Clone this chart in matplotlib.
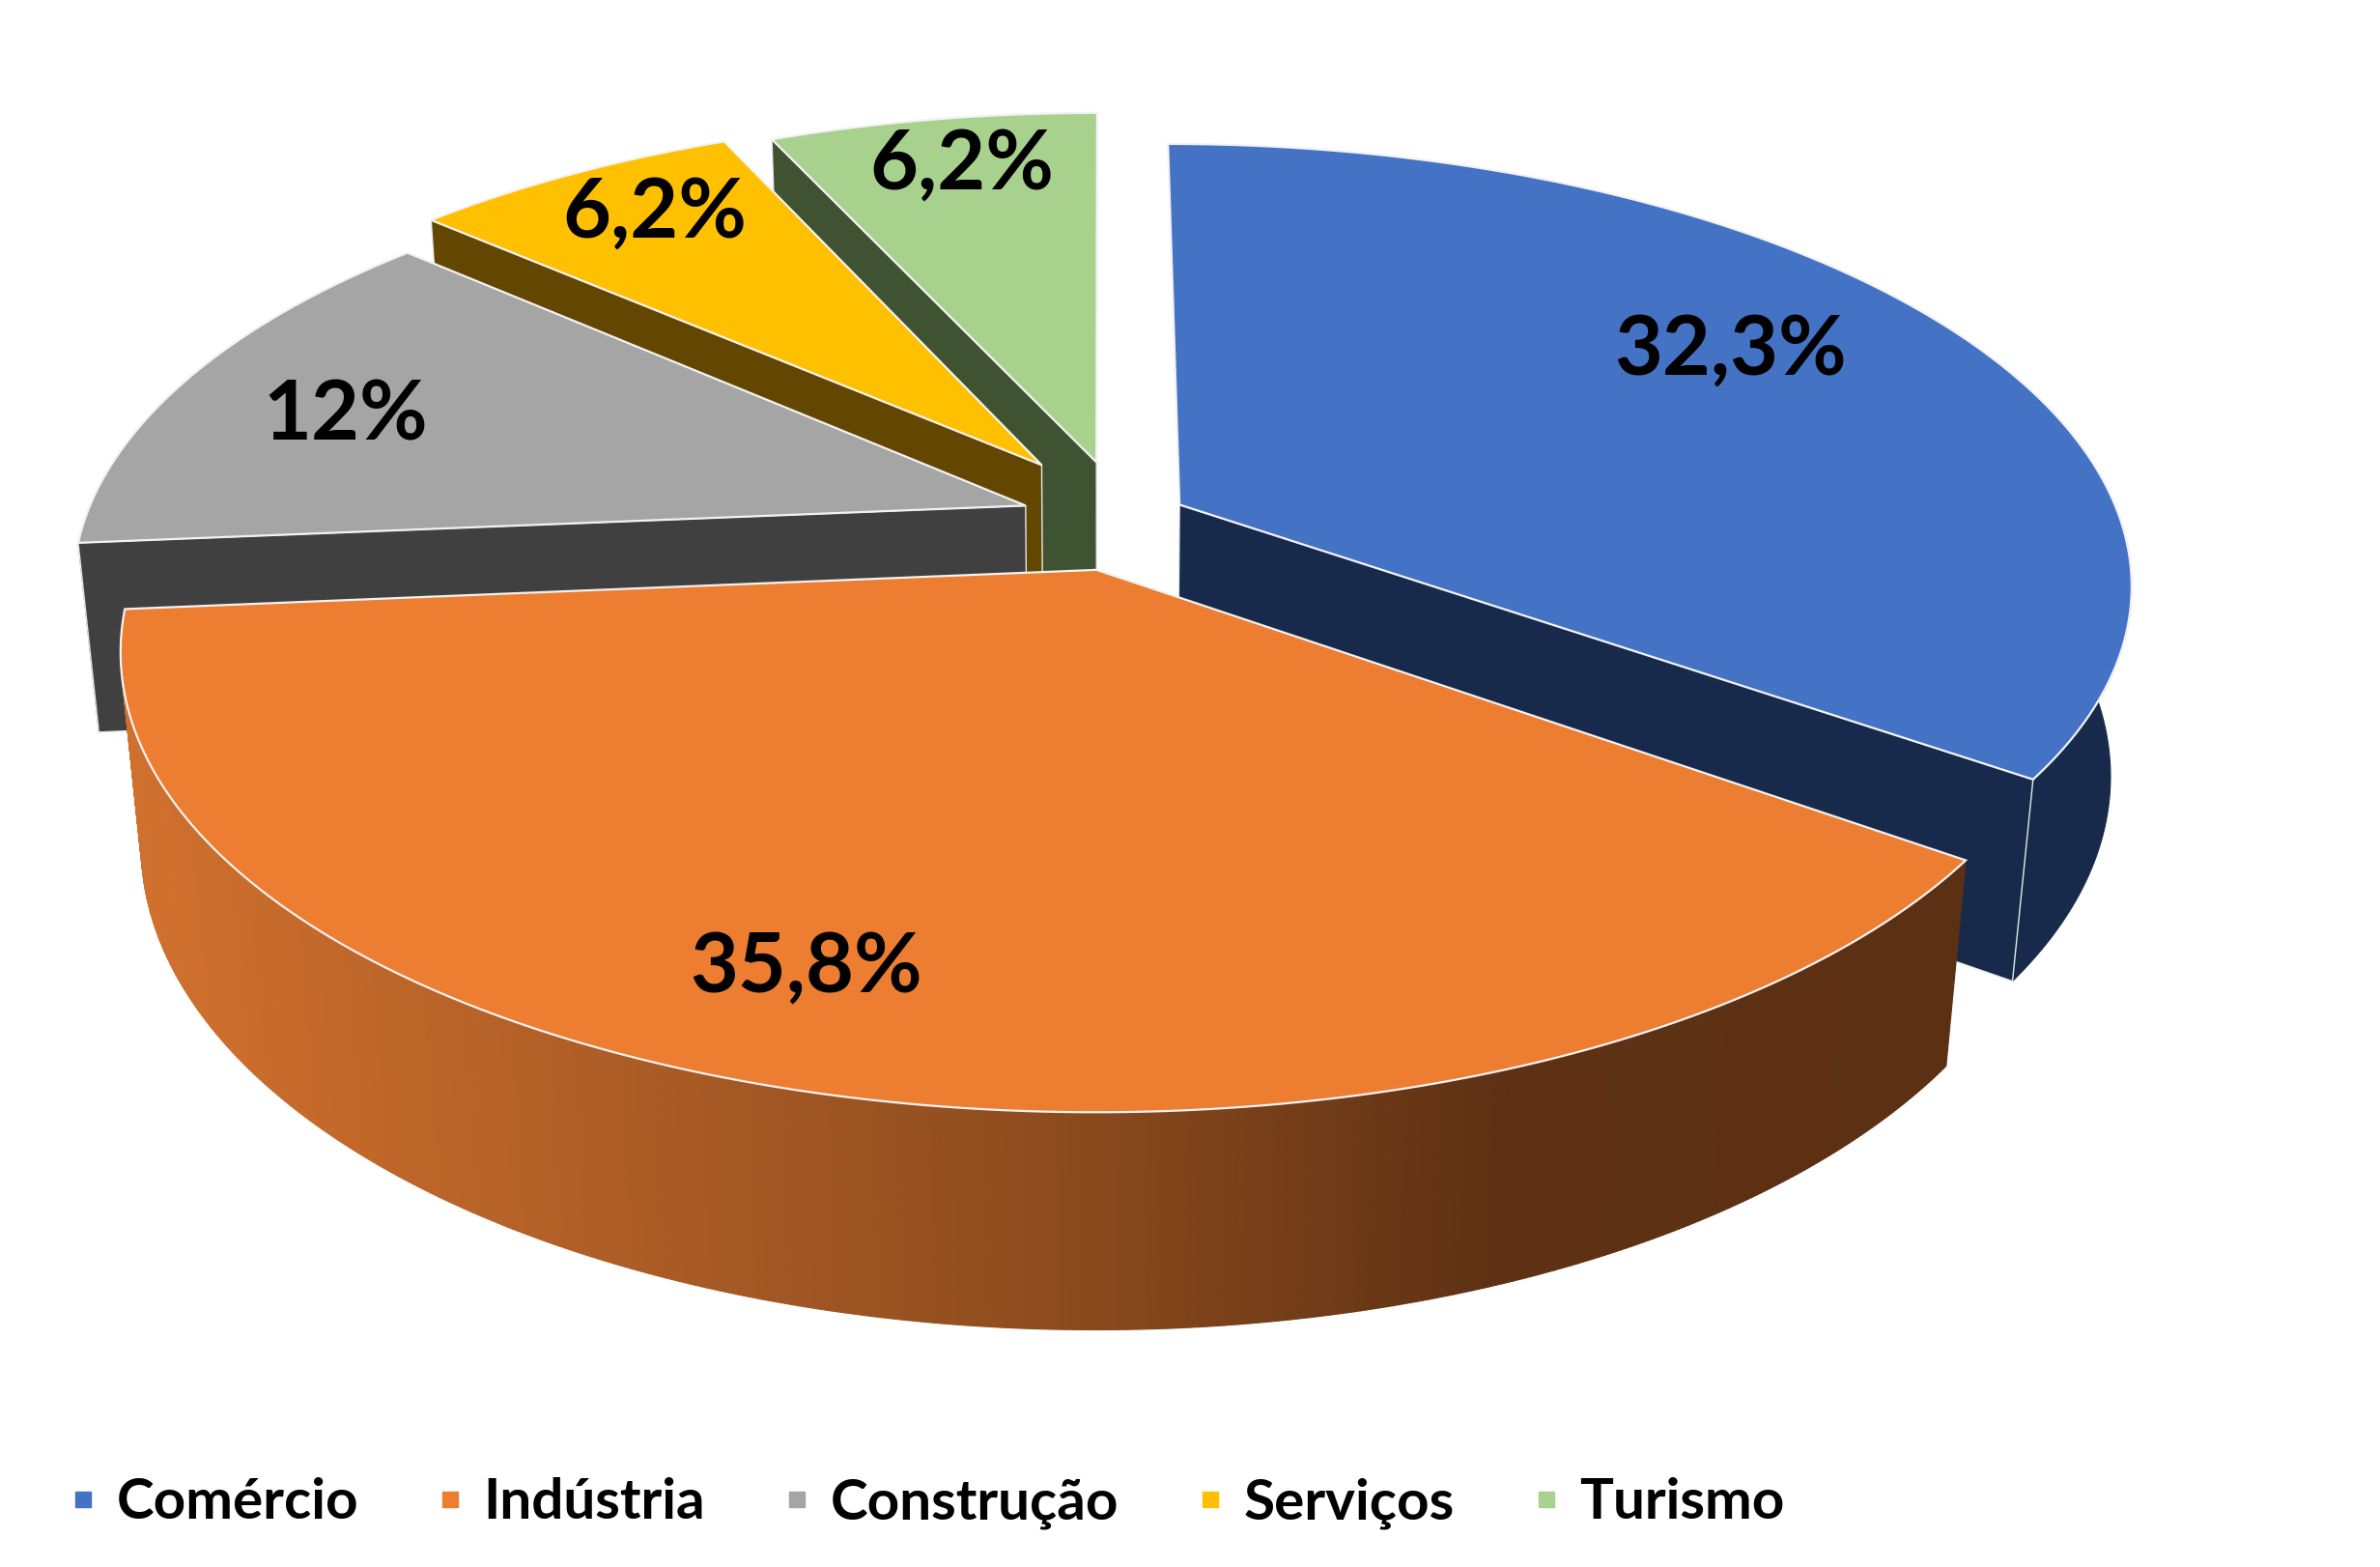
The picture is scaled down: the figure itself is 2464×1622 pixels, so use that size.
import numpy as np
import matplotlib
matplotlib.use('Agg')
import matplotlib.pyplot as plt
from matplotlib.collections import PolyCollection
from matplotlib.patches import Polygon
from matplotlib.lines import Line2D
from matplotlib.colors import to_rgb

# ---------------- data ----------------
categories = ['Comércio', 'Indústria', 'Construção', 'Serviços', 'Turismo']
values = [32.3, 35.8, 12, 6.2, 6.2]
value_labels = ['32,3%', '35,8%', '12%', '6,2%', '6,2%']

# ---------------- style ----------------
top_colors = ['#4472C4', '#ED7D31', '#A5A5A5', '#FFC000', '#A9D18E']
side_colors = ['#172A4C', '#5E3114', '#404040', '#634700', '#3F5231']
gradient_slice = 1
gradient_stops = [(0.0, '#D0702E'), (0.5, '#8E4C1E'), (0.75, '#5E3114'), (1.0, '#5C3013')]

W, H = 2464, 1622
CX, CY = 1140, 540          # screen position of pie centre (pixels)
S = 975                     # radius scale (pixels)
PHI = np.radians(27.1)      # tilt
DIST = 5.11                 # perspective distance (radius units)
THICK = 0.229               # pie thickness (radius units)
explode_xy = [(0.0838, 0.0399), (-0.0049, -0.1101), (-0.0807, 0.0377),
              (-0.0646, 0.1352), (-0.0051, 0.1421)]
label_r = [0.744, 0.814, 0.788, 0.834, 0.847]
label_dtheta = [4.3, -3.3, 2.3, -1.3, -0.6]
FONT = 'Lato'

cphi, sphi = np.cos(PHI), np.sin(PHI)


def proj(x, y, z):
    x = np.asarray(x, float)
    y = np.asarray(y, float)
    z = np.asarray(z, float) + 0 * x
    depth = y * cphi - z * sphi
    sy = y * sphi + z * cphi
    f = DIST / (DIST + depth)
    return CX + S * x * f, CY - S * sy * f


def grad_color(t):
    t = min(max(t, 0.0), 1.0)
    for (a, ca), (b, cb) in zip(gradient_stops[:-1], gradient_stops[1:]):
        if t <= b:
            u = (t - a) / (b - a) if b > a else 0
            c1, c2 = np.array(to_rgb(ca)), np.array(to_rgb(cb))
            return tuple(c1 + (c2 - c1) * u)
    return to_rgb(gradient_stops[-1][1])


def visible_side_intervals(t0, t1):
    out = []
    for k in (-1, 0, 1):
        a, b = max(t0, -180 + 360 * k), min(t1, 360 * k)
        if b - a > 1e-6:
            out.append((a, b))
    return out


fig = plt.figure(figsize=(W / 100, H / 100), dpi=100)
ax = fig.add_axes([0, 0, 1, 1])
ax.set_xlim(0, W)
ax.set_ylim(H, 0)
ax.axis('off')

total = float(sum(values))
angles = []
cum = 0.0
for v in values:
    t1 = 90 - 360 * cum / total
    t0 = t1 - 360 * v / total
    cum += v
    angles.append((t0, t1))


def depth_key(i):
    t0, t1 = angles[i]
    mid = np.radians((t0 + t1) / 2)
    return explode_xy[i][1] + 0.5 * np.sin(mid)


order = sorted(range(len(values)), key=depth_key, reverse=True)

for i in order:
    t0, t1 = angles[i]
    ox, oy = explode_xy[i]
    # ---- outer curved side ----
    for a, b in visible_side_intervals(t0, t1):
        n = max(int((b - a) * 3), 4)
        th = np.radians(np.linspace(a, b, n + 1))
        xs, ys = ox + np.cos(th), oy + np.sin(th)
        X1, Y1 = proj(xs, ys, 0)
        X2, Y2 = proj(xs, ys, -THICK)
        if i == gradient_slice:
            full = np.radians(np.linspace(t0, t1, 400))
            FX, _ = proj(ox + np.cos(full), oy + np.sin(full), -THICK / 2)
            xmin, xmax = FX.min(), FX.max()
            polys, cols = [], []
            for k in range(n):
                polys.append([(X1[k], Y1[k]), (X1[k + 1], Y1[k + 1]),
                              (X2[k + 1], Y2[k + 1]), (X2[k], Y2[k])])
                xm = (X1[k] + X1[k + 1]) / 2
                cols.append(grad_color((xm - xmin) / (xmax - xmin)))
            ax.add_collection(PolyCollection(polys, facecolors=cols, edgecolors=cols,
                                             linewidths=0.8, zorder=1))
        else:
            pts = np.column_stack([np.r_[X1, X2[::-1]], np.r_[Y1, Y2[::-1]]])
            ax.add_patch(Polygon(pts, closed=True, facecolor=side_colors[i],
                                 edgecolor=side_colors[i], lw=0.8, zorder=1))
    # ---- radial cut faces ----
    for t, vis in ((t1, np.cos(np.radians(t1)) < -1e-6), (t0, np.cos(np.radians(t0)) > 1e-6)):
        if not vis:
            continue
        r = np.radians(t)
        px = [ox, ox + np.cos(r), ox + np.cos(r), ox]
        py = [oy, oy + np.sin(r), oy + np.sin(r), oy]
        pz = [0, 0, -THICK, -THICK]
        X, Y = proj(px, py, pz)
        col = side_colors[i] if i != gradient_slice else gradient_stops[-1][1]
        ax.add_patch(Polygon(np.column_stack([X, Y]), closed=True, facecolor=col,
                             edgecolor='#E8E8E8', lw=1.0, zorder=1))
    # ---- top face ----
    th = np.radians(np.linspace(t0, t1, 400))
    xs = np.r_[ox, ox + np.cos(th)]
    ys = np.r_[oy, oy + np.sin(th)]
    X, Y = proj(xs, ys, 0)
    ax.add_patch(Polygon(np.column_stack([X, Y]), closed=True, facecolor=top_colors[i],
                         edgecolor='#F2F2F2', lw=1.6, zorder=1))

# ---- data labels ----
for i in range(len(values)):
    t0, t1 = angles[i]
    mid = np.radians((t0 + t1) / 2 + label_dtheta[i])
    ox, oy = explode_xy[i]
    X, Y = proj(ox + label_r[i] * np.cos(mid), oy + label_r[i] * np.sin(mid), 0)
    ax.text(float(X), float(Y), value_labels[i], ha='center', va='center',
            fontsize=62, fontweight='bold', family=FONT, color='black', zorder=5)

# ---- legend ----
handles = [Line2D([], [], marker='s', ls='none', markersize=12,
                  markerfacecolor=c, markeredgecolor=c) for c in top_colors]
fig.legend(handles, categories, loc='center', bbox_to_anchor=(958 / W, 1 - 1556 / H),
           ncol=5, frameon=False, prop={'family': FONT, 'weight': 'bold', 'size': 42},
           handletextpad=0.3, columnspacing=1.32, handlelength=0.6)

fig.savefig('out.png', dpi=100, facecolor='white')
